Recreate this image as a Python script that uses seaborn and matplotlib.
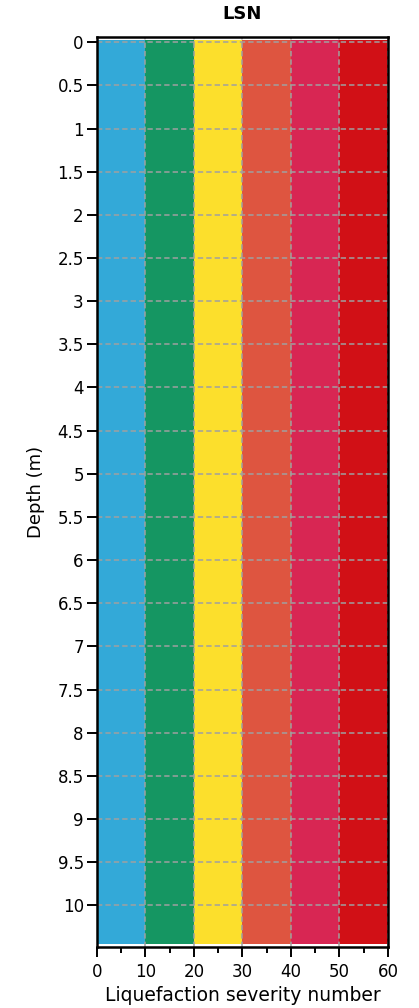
import matplotlib
matplotlib.use("Agg")
import matplotlib.pyplot as plt
import seaborn as sns
import numpy as np
from matplotlib.ticker import MultipleLocator

# ---- data ----
lsn_edges = [0, 10, 20, 30, 40, 50, 60]
band_colors = ["#33A9D8", "#159662", "#FCDF2C", "#DE5540", "#D82653", "#D11016"]
depth_range = [-0.03, 10.45]
depth_ticks = [0, 0.5, 1, 1.5, 2, 2.5, 3, 3.5, 4, 4.5, 5, 5.5, 6, 6.5, 7, 7.5,
               8, 8.5, 9, 9.5, 10]
depth_tick_labels = ["0", "0.5", "1", "1.5", "2", "2.5", "3", "3.5", "4", "4.5",
                     "5", "5.5", "6", "6.5", "7", "7.5", "8", "8.5", "9", "9.5", "10"]
x_ticks = [0, 10, 20, 30, 40, 50, 60]
x_tick_labels = ["0", "10", "20", "30", "40", "50", "60"]

sns.set_theme(style="white")
plt.rcParams['font.family'] = ['DejaVu Sans']

fig = plt.figure(figsize=(4.19, 10.08), dpi=100)
ax = fig.add_axes([0.2315, 0.0608, 0.926 - 0.2315, 0.963 - 0.0608])

for i, c in enumerate(band_colors):
    ax.fill_betweenx(depth_range, lsn_edges[i], lsn_edges[i + 1], color=c,
                     linewidth=0, zorder=1)

ax.set_xlim(0, 60)
ax.set_ylim(10.48, -0.058)
ax.set_xticks(x_ticks)
ax.set_xticklabels(x_tick_labels)
ax.xaxis.set_minor_locator(MultipleLocator(5))
ax.set_yticks(depth_ticks)
ax.set_yticklabels(depth_tick_labels)

ax.grid(True, which="major", color="#A0A0A0", linestyle=(0, (3.5, 2)),
        linewidth=1.1, zorder=2)
ax.set_axisbelow(False)

for s in ax.spines.values():
    s.set_color("black")
    s.set_linewidth(1.8)
    s.set_zorder(3)

ax.tick_params(axis="both", which="major", direction="out", length=7, width=1.4,
               color="black", labelsize=12, labelcolor="black",
               bottom=True, left=True)
ax.tick_params(axis="y", which="major", pad=2.5)
ax.tick_params(axis="x", which="major", pad=5)
ax.tick_params(axis="x", which="minor", direction="out", length=4, width=1.4,
               color="black", bottom=True)

ax.set_xlabel("Liquefaction severity number", fontsize=13.5, color="black", labelpad=3)
ax.set_ylabel("Depth (m)", fontsize=13, color="black", labelpad=9)
ax.set_title("LSN", fontsize=13, fontweight="bold", color="black", pad=13)

fig.savefig("out.png", dpi=100)
